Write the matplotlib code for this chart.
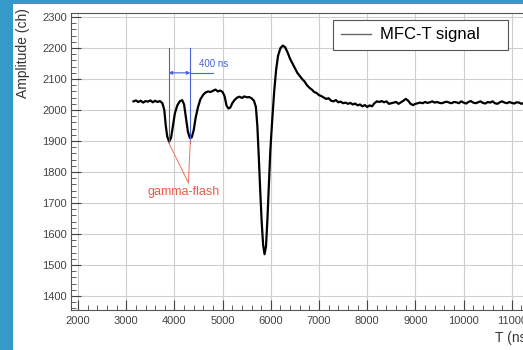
import matplotlib.pyplot as plt
import matplotlib.patches as mpatches
from matplotlib.ticker import MultipleLocator

plt.rcParams["font.family"] = ["Liberation Sans", "DejaVu Sans"]

# MFC-T signal (time in ns, amplitude in channels)
time_ns = [3150, 3200, 3250, 3300, 3350, 3400, 3450, 3500, 3550, 3600, 3650, 3700, 3750,
           3790, 3820, 3850, 3890, 3930, 3970, 4010, 4060, 4110, 4160, 4200, 4240, 4280,
           4320, 4360, 4400, 4440, 4490, 4540, 4600, 4650, 4700, 4750, 4800, 4850, 4900,
           4950, 5000, 5040, 5080, 5120, 5160, 5200, 5250, 5300, 5350, 5400, 5450, 5500,
           5550, 5600, 5650, 5690, 5720, 5750, 5780, 5810, 5840, 5870, 5900, 5930, 5960,
           5990, 6030, 6070, 6110, 6150, 6200, 6250, 6300, 6350, 6400, 6450, 6500, 6550,
           6600, 6650, 6700, 6750, 6800, 6850, 6900, 6950, 7000, 7050, 7100, 7150, 7200,
           7250, 7300, 7350, 7400, 7450, 7500, 7550, 7600, 7650, 7700, 7750, 7800, 7850,
           7900, 7950, 8000, 8050, 8100, 8150, 8200, 8250, 8300, 8350, 8400, 8450, 8500,
           8550, 8600, 8650, 8700, 8750, 8800, 8850, 8900, 8950, 9000, 9050, 9100, 9150,
           9200, 9250, 9300, 9350, 9400, 9450, 9500, 9550, 9600, 9650, 9700, 9750, 9800,
           9850, 9900, 9950, 10000, 10050, 10100, 10150, 10200, 10250, 10300, 10350,
           10400, 10450, 10500, 10550, 10600, 10650, 10700, 10750, 10800, 10850, 10900,
           10950, 11000, 11050, 11100, 11150, 11200, 11250, 11300, 11350, 11400]
amplitude = [2028, 2031, 2026, 2030, 2024, 2029, 2027, 2031, 2025, 2030, 2026, 2029, 2022,
             2000, 1950, 1915, 1898, 1910, 1950, 1990, 2015, 2028, 2032, 2018, 1975, 1930,
             1910, 1912, 1935, 1975, 2010, 2035, 2050, 2057, 2060, 2058, 2062, 2066, 2060,
             2063, 2058, 2045, 2015, 2005, 2008, 2022, 2033, 2040, 2043, 2039, 2044, 2041,
             2042, 2038, 2030, 2010, 1950, 1850, 1740, 1640, 1565, 1535, 1560, 1650, 1760,
             1870, 1970, 2060, 2130, 2175, 2200, 2208, 2202, 2185, 2165, 2150, 2135, 2120,
             2110, 2100, 2092, 2080, 2072, 2066, 2058, 2055, 2048, 2045, 2040, 2036, 2038,
             2030, 2028, 2032, 2025, 2027, 2022, 2024, 2020, 2023, 2018, 2021, 2015, 2018,
             2012, 2016, 2010, 2015, 2012, 2022, 2028, 2026, 2029, 2025, 2028, 2020, 2022,
             2024, 2026, 2020, 2025, 2030, 2036, 2030, 2020, 2016, 2020, 2022, 2024, 2022,
             2026, 2023, 2025, 2028, 2024, 2026, 2023, 2022, 2025, 2027, 2024, 2022, 2026,
             2025, 2022, 2028, 2024, 2021, 2026, 2029, 2024, 2022, 2025, 2028,
             2023, 2021, 2026, 2024, 2028, 2022, 2020, 2025, 2028, 2024, 2022,
             2026, 2023, 2021, 2025, 2024, 2020, 2023, 2025, 2022, 2024]

# annotation anchors
flash_times = [3880, 4330]   # the two gamma-flash dips
flash_amp = [1895, 1900]
marker_top = 2200
arrow_amp = 2120
arrow_end = 4800
label_point = (4290, 1765)

W, H = 523, 350
fig = plt.figure(figsize=(W / 100, H / 100), dpi=100)
fig.patch.set_facecolor("#3799c9")
# white slide area
fig.add_artist(mpatches.Rectangle((13 / W, 0), 1, 1 - 4 / H, transform=fig.transFigure,
                                  facecolor="white", edgecolor="none", zorder=0))

ax = fig.add_axes([71 / W, 40 / H, (560 - 71) / W, 297 / H])
ax.set_xlim(1854, 12000)
ax.set_ylim(1355, 2313)

ax.plot(time_ns, amplitude, color="black", lw=1.6, label="MFC-T signal", zorder=3)

# blue 400 ns marker
for t in flash_times:
    ax.plot([t, t], [flash_amp[0], marker_top], color="#4a62d4", lw=0.8, zorder=4)
ax.annotate("", xy=(flash_times[0], arrow_amp), xytext=(flash_times[1], arrow_amp),
            arrowprops=dict(arrowstyle="<|-|>", color="#4a62d4", lw=0.8,
                            mutation_scale=5, shrinkA=0, shrinkB=0), zorder=4)
ax.plot([flash_times[1], arrow_end], [arrow_amp, arrow_amp], color="#4a62d4", lw=0.8, zorder=4)
ax.text(4500, 2150, "400 ns", color="#4a62d4", fontsize=7, va="center", ha="left")

# red gamma-flash pointers
for t, a in zip(flash_times, flash_amp):
    ax.plot([t, label_point[0]], [a, label_point[1]], color="#f07060", lw=0.7, zorder=4)
ax.text(4190, 1735, "gamma-flash", color="#ee5a4a", fontsize=9, ha="center", va="center")

# ROOT-like axes
ax.xaxis.set_major_locator(MultipleLocator(1000))
ax.xaxis.set_minor_locator(MultipleLocator(200))
ax.yaxis.set_major_locator(MultipleLocator(100))
ax.yaxis.set_minor_locator(MultipleLocator(20))
ax.tick_params(which="both", direction="in", colors="#444444", labelsize=8,
               top=False, right=False)
ax.tick_params(which="major", length=7, width=0.8)
ax.tick_params(which="minor", length=3.5, width=0.6)
ax.tick_params(axis="x", pad=4)
ax.tick_params(axis="y", pad=3)
ax.grid(True, which="major", color="#cfcfcf", lw=0.8)
ax.set_axisbelow(True)
for s in ax.spines.values():
    s.set_color("#555555")
    s.set_linewidth(0.8)

fig.text(23 / W, 1 - 8 / H, "Amplitude (ch)", rotation=90, ha="center", va="top",
         fontsize=10, color="#333333")
fig.text(495 / W, 1 - 338 / H, "T (ns)", ha="left", va="center", fontsize=10,
         color="#333333")

ax.legend(loc="upper left", bbox_to_anchor=(333 / W, 1 - 55 / H, 175 / W, 35 / H),
          bbox_transform=fig.transFigure, mode="expand", borderaxespad=0,
          fontsize=12, handlelength=1.8, handletextpad=0.6, borderpad=0.45,
          fancybox=False, framealpha=1, edgecolor="#555555")
ax.get_legend().get_frame().set_linewidth(0.8)
ax.get_legend().get_lines()[0].set_color("#666666")
ax.get_legend().get_lines()[0].set_linewidth(1.0)

fig.savefig("out.png", dpi=100)
